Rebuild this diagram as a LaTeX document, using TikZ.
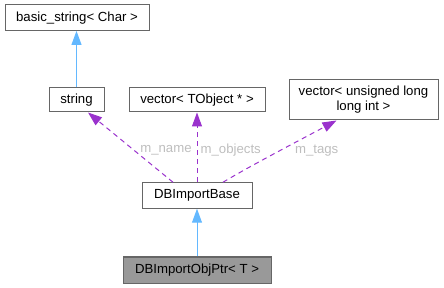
\documentclass[tikz,border=0pt]{standalone}
\usepackage{fontspec}
\setmainfont{Liberation Sans}
\usetikzlibrary{arrows.meta}
\definecolor{inhblue}{HTML}{63B8FF}
\definecolor{usepurple}{HTML}{9A32CD}
\definecolor{boxgray}{HTML}{666666}
\definecolor{labgray}{HTML}{BEBEBE}
\definecolor{curfill}{HTML}{999999}
\begin{document}
\begin{tikzpicture}[x=1pt,y=-1pt,
  box/.style={draw=boxgray,line width=1pt,fill=white,rectangle,inner sep=0pt,align=center,
    font=\fontsize{13.2}{15}\selectfont},
  inh/.style={draw=inhblue,line width=1pt,-{Triangle[length=14pt,width=10pt]}},
  usage/.style={draw=usepurple,line width=1pt,dash pattern=on 5pt off 4pt,-{Triangle[length=14pt,width=10pt]}},
  lab/.style={text=labgray,inner sep=0pt,font=\fontsize{13.2}{15}\selectfont}]
\useasboundingbox (0,0) rectangle (444,288);
\node[box,minimum width=144pt,minimum height=25.5pt] (bs) at (77,17.7) {basic\_string< Char >};
\node[box,minimum width=55pt,minimum height=24pt] (str) at (76.5,100) {string};
\node[box,minimum width=136pt,minimum height=24pt] (vto) at (197,100) {vector< TObject * >};
\node[box,minimum width=149pt,minimum height=40pt] (vul) at (363.5,100) {vector< unsigned long\\long int >};
\node[box,minimum width=110pt,minimum height=25.5pt] (dbb) at (197,195.5) {DBImportBase};
\node[box,fill=curfill,minimum width=148pt,minimum height=26pt] (dbo) at (197,270) {DBImportObjPtr< T >};
\draw[inh] (str.north) -- (str.north |- bs.south);
\draw[inh] (dbo.north) -- (dbb.south);
\draw[usage] ([xshift=-24pt]dbb.north) -- ([xshift=11.5pt]str.south);
\draw[usage] (dbb.north) -- (vto.south);
\draw[usage] ([xshift=26pt]dbb.north) .. controls (250,166) and (300,140) .. ([xshift=-27pt]vul.south);
\node[lab] (ln) at (166,150.5) {m\_name};
\node[lab] (lo) at (230.7,150.5) {m\_objects};
\node[lab] (lt) at (316.7,150.5) {m\_tags};
\end{tikzpicture}
\end{document}
